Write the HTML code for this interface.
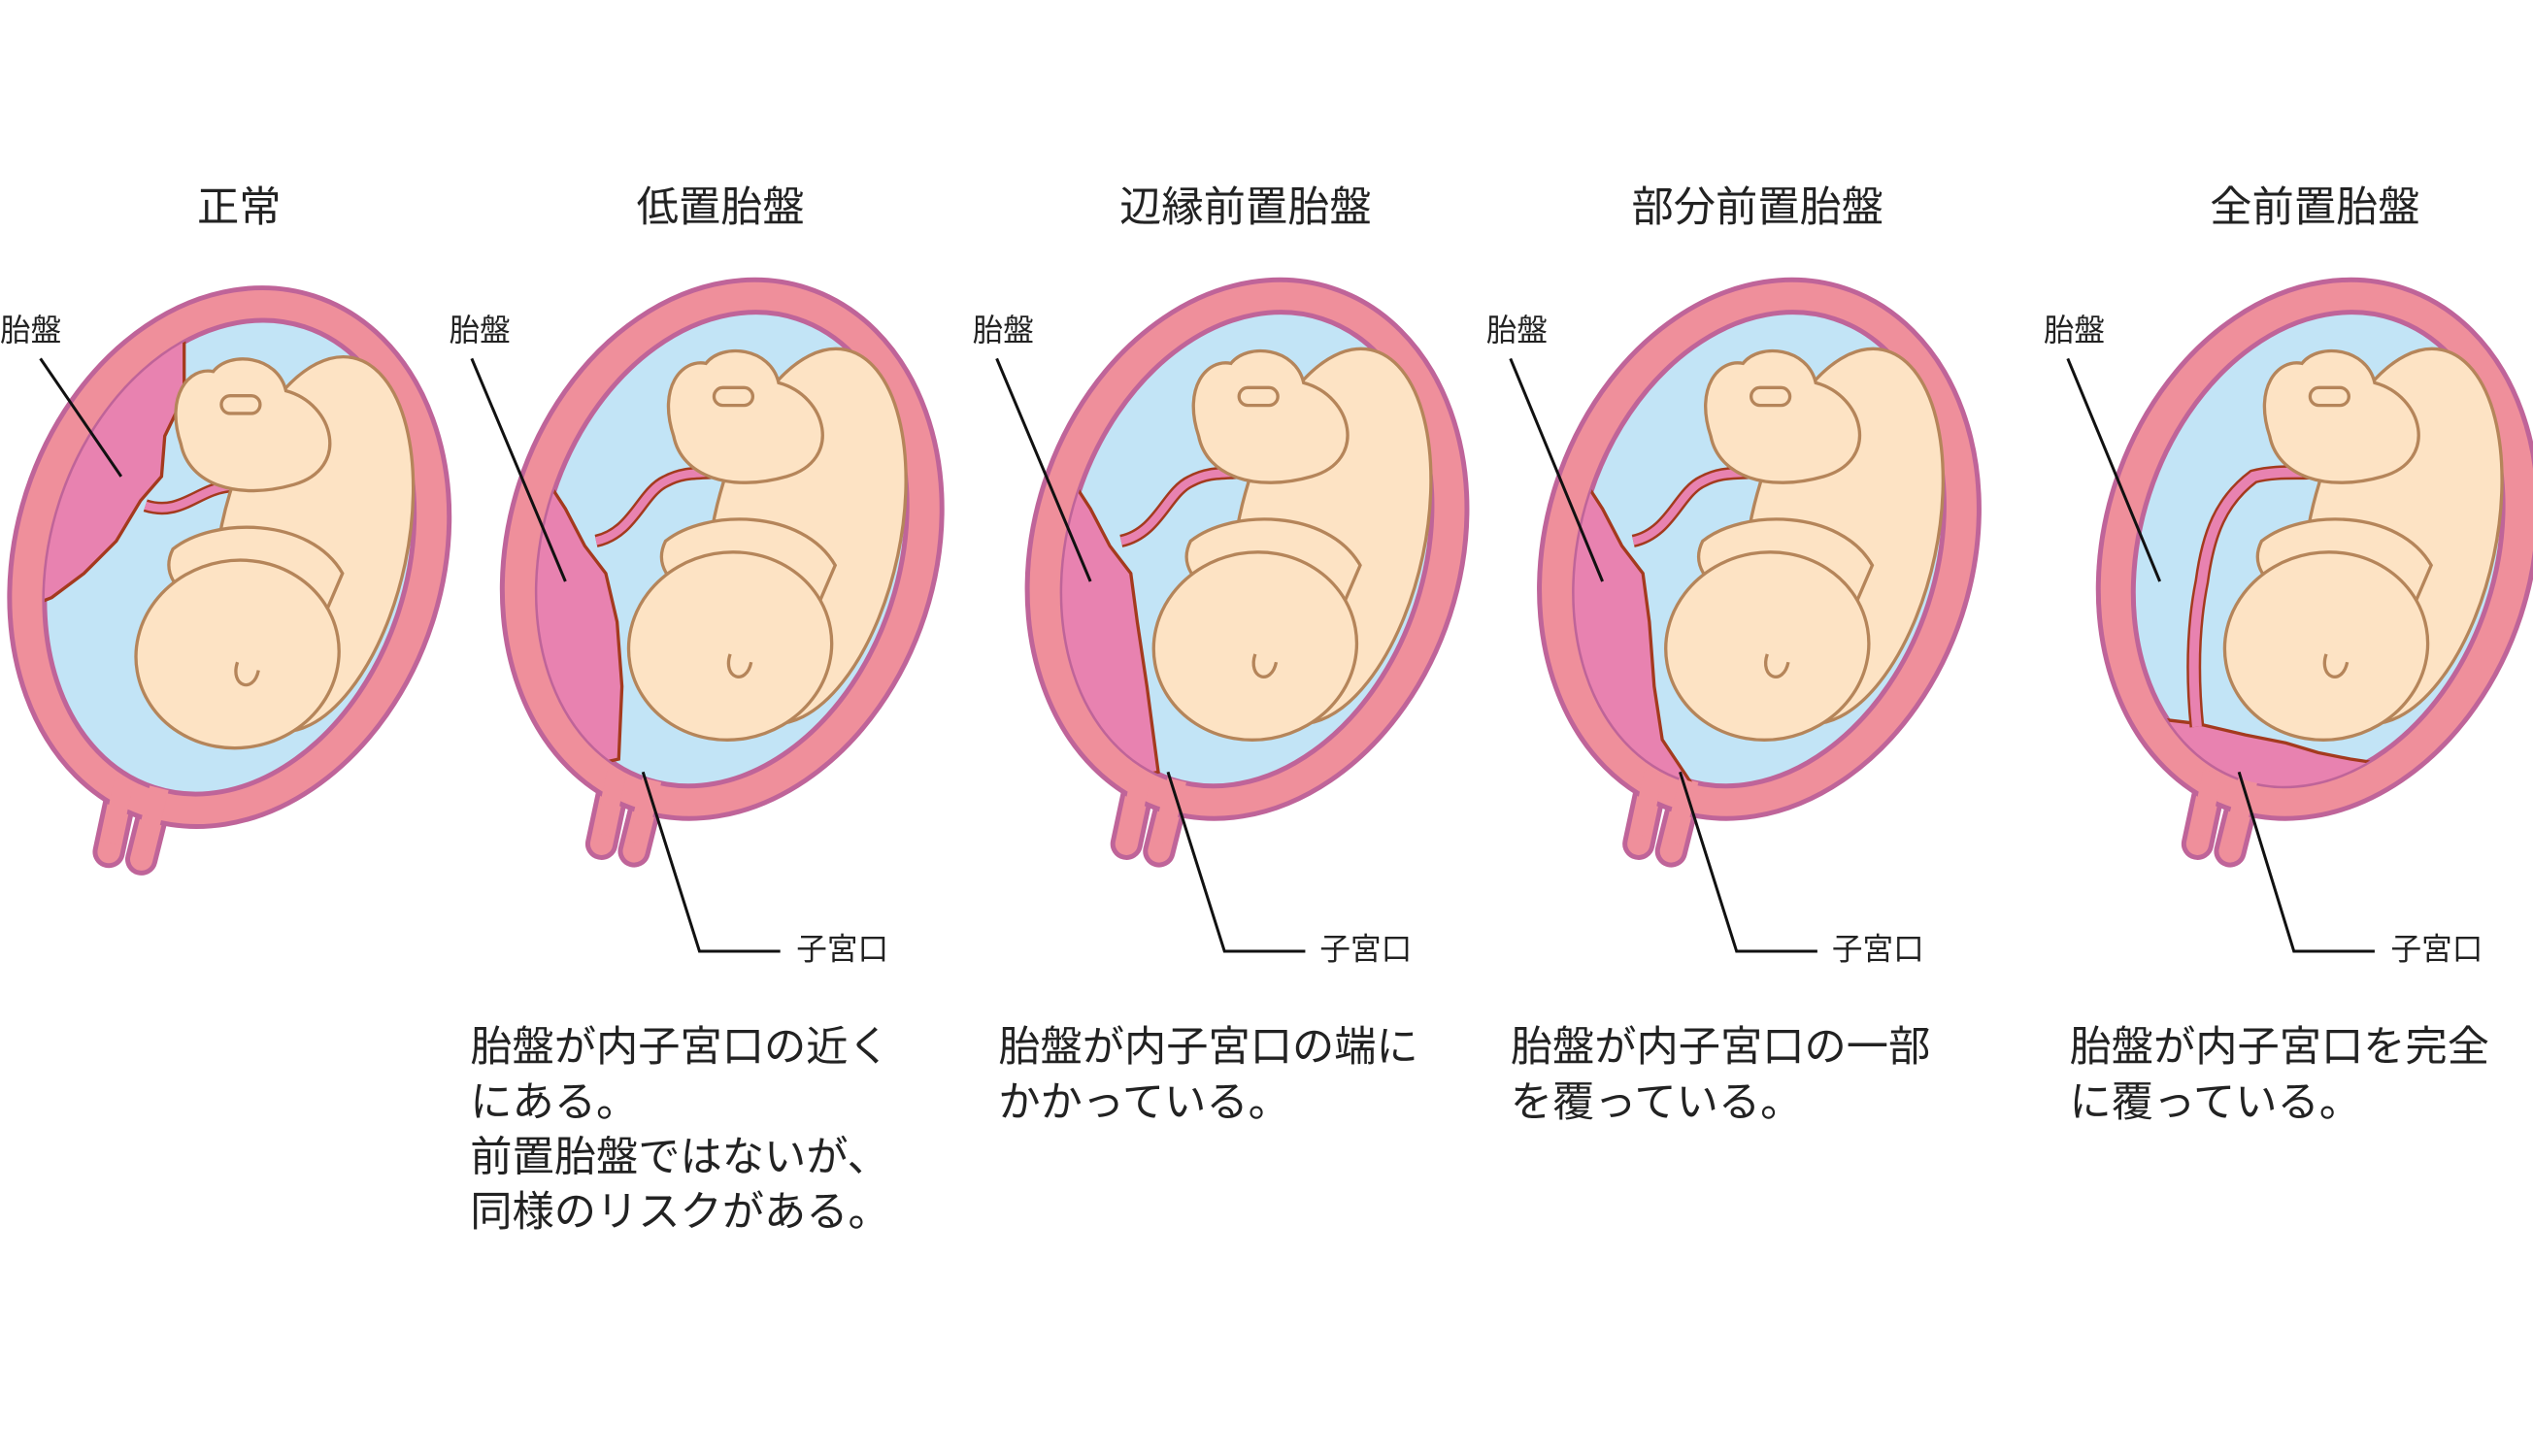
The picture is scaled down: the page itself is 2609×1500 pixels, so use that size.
<!DOCTYPE html>
<html><head><meta charset="utf-8"><style>
html,body{margin:0;padding:0;background:#fff;}
svg{display:block}
text{font-family:"Liberation Sans","Noto Sans CJK JP",sans-serif;fill:#222}
</style></head><body>
<svg width="2609" height="1500" viewBox="0 0 1568 901.5" xmlns="http://www.w3.org/2000/svg">
<defs>
<clipPath id="inner"><ellipse cx="0" cy="0" rx="110" ry="150" transform="rotate(18)"/></clipPath>
<g id="uterus">
  <g transform="translate(-64,130) rotate(12)">
    <rect x="-8" y="0" width="17" height="62" rx="8.5" fill="#ef8f9b" stroke="#bf6499" stroke-width="3"/>
  </g>
  <g transform="translate(-42,135) rotate(14)">
    <rect x="-8" y="0" width="17" height="62" rx="8.5" fill="#ef8f9b" stroke="#bf6499" stroke-width="3"/>
  </g>
  <g transform="rotate(18)">
    <ellipse cx="0" cy="0" rx="132" ry="170" fill="#ef8f9b" stroke="#bf6499" stroke-width="3"/>
    <ellipse cx="0" cy="0" rx="110" ry="150" fill="#c2e4f6" stroke="#bf6499" stroke-width="3"/>
  </g>
  <g transform="translate(-64,130) rotate(12)"><rect x="-5.5" y="8" width="12" height="40" fill="#ef8f9b"/></g>
  <g transform="translate(-42,135) rotate(14)"><rect x="-5.5" y="8" width="12" height="40" fill="#ef8f9b"/></g>
</g>
<g id="fetus" fill="#fde3c4" stroke="#b5855a" stroke-width="2">
  <ellipse cx="52" cy="-8" rx="58" ry="118" transform="rotate(12 52 -8)"/>
  <path d="M-30,-70 C-40,-100 -25,-118 -10,-115 C0,-128 30,-125 35,-103 C65,-95 75,-55 40,-45 C5,-35 -25,-45 -30,-70Z"/>
  <rect x="-5" y="-100" width="24" height="11" rx="5.5"/>
  <path d="M-35,-5 C-10,-25 50,-25 70,10 L55,45 C40,25 20,15 5,18 L-25,25 C-38,15 -40,5 -35,-5Z"/>
  <ellipse cx="5" cy="60" rx="63" ry="58" transform="rotate(-10 5 60)"/>
  <path d="M5,65 C0,80 15,85 18,70" fill="none"/>
</g>
</defs>

<g font-size="26" text-anchor="middle">
<text x="148" y="137">正常</text>
<text x="446" y="137">低置胎盤</text>
<text x="771" y="137">辺縁前置胎盤</text>
<text x="1088" y="137">部分前置胎盤</text>
<text x="1433" y="137">全前置胎盤</text>
</g>

<g transform="translate(142,345)">
<use href="#uterus"/>
<g clip-path="url(#inner)">
<path d="M-28,-160 L-28,-100 L-40,-75 L-42,-50 L-55,-35 L-70,-10 L-90,10 L-110,25 L-200,60 L-200,-200Z" fill="#e882b0" stroke="#a43a1e" stroke-width="2"/>
</g>
<path d="M-52,-32 C-30,-25 -20,-42 0,-44 C10,-44 15,-47 20,-47" fill="none" stroke="#a43a1e" stroke-width="8"/>
<path d="M-52,-32 C-30,-25 -20,-42 0,-44 C10,-44 15,-47 20,-47" fill="none" stroke="#e882b0" stroke-width="5"/>
<use href="#fetus"/>
</g>

<g transform="translate(447,340)">
<use href="#uterus"/>
<g clip-path="url(#inner)">
<path d="M-120,-50 L-108,-42 L-97,-25 L-85,-2 L-72,15 L-65,45 L-62,85 L-64,130 L-200,160 L-200,-60Z" fill="#e882b0" stroke="#a43a1e" stroke-width="2"/>
</g>
<path d="M-78,-5 C-55,-10 -50,-35 -35,-42 C-20,-50 -10,-45 15,-50" fill="none" stroke="#a43a1e" stroke-width="8"/>
<path d="M-78,-5 C-55,-10 -50,-35 -35,-42 C-20,-50 -10,-45 15,-50" fill="none" stroke="#e882b0" stroke-width="5"/>
<use href="#fetus"/>
</g>

<g transform="translate(772,340)">
<use href="#uterus"/>
<g clip-path="url(#inner)">
<path d="M-120,-50 L-108,-42 L-97,-25 L-85,-2 L-72,15 L-68,45 L-62,85 L-55,138 L-200,170 L-200,-60Z" fill="#e882b0" stroke="#a43a1e" stroke-width="2"/>
</g>
<path d="M-78,-5 C-55,-10 -50,-35 -35,-42 C-20,-50 -10,-45 15,-50" fill="none" stroke="#a43a1e" stroke-width="8"/>
<path d="M-78,-5 C-55,-10 -50,-35 -35,-42 C-20,-50 -10,-45 15,-50" fill="none" stroke="#e882b0" stroke-width="5"/>
<use href="#fetus"/>
</g>

<g transform="translate(1089,340)">
<use href="#uterus"/>
<g clip-path="url(#inner)">
<path d="M-120,-50 L-108,-42 L-97,-25 L-85,-2 L-72,15 L-68,45 L-65,85 L-60,118 L-42,145 L-200,170 L-200,-60Z" fill="#e882b0" stroke="#a43a1e" stroke-width="2"/>
</g>
<path d="M-78,-5 C-55,-10 -50,-35 -35,-42 C-20,-50 -10,-45 15,-50" fill="none" stroke="#a43a1e" stroke-width="8"/>
<path d="M-78,-5 C-55,-10 -50,-35 -35,-42 C-20,-50 -10,-45 15,-50" fill="none" stroke="#e882b0" stroke-width="5"/>
<use href="#fetus"/>
</g>

<g transform="translate(1435,340)">
<use href="#uterus"/>
<g clip-path="url(#inner)">
<path d="M-100,105 L-75,108 L-45,115 L-20,120 L0,126 L20,130 L40,133 L40,200 L-120,200Z" fill="#e882b0" stroke="#a43a1e" stroke-width="2"/>
</g>
<path d="M-75,110 C-78,80 -78,50 -72,20 C-68,-10 -60,-30 -40,-45 C-20,-50 -5,-45 12,-50" fill="none" stroke="#a43a1e" stroke-width="9"/>
<path d="M-75,110 C-78,80 -78,50 -72,20 C-68,-10 -60,-30 -40,-45 C-20,-50 -5,-45 12,-50" fill="none" stroke="#e882b0" stroke-width="6"/>
<use href="#fetus"/>
</g>

<g font-size="19">
<text x="0" y="211">胎盤</text>
<text x="278" y="211">胎盤</text>
<text x="602" y="211">胎盤</text>
<text x="920" y="211">胎盤</text>
<text x="1265" y="211">胎盤</text>
</g>
<g stroke="#111" stroke-width="1.8" fill="none">
<line x1="25" y1="222" x2="75" y2="295"/>
<line x1="292" y1="222" x2="350" y2="360"/>
<line x1="617" y1="222" x2="675" y2="360"/>
<line x1="935" y1="222" x2="992" y2="360"/>
<line x1="1280" y1="222" x2="1337" y2="360"/>
<polyline points="398,478 433,589 483,589"/>
<polyline points="723,478 758,589 808,589"/>
<polyline points="1040,478 1075,589 1125,589"/>
<polyline points="1386,478 1420,589 1470,589"/>
</g>
<g font-size="19">
<text x="493" y="594">子宮口</text>
<text x="817" y="594">子宮口</text>
<text x="1134" y="594">子宮口</text>
<text x="1480" y="594">子宮口</text>
</g>

<g font-size="26">
<text x="291" y="657">胎盤が内子宮口の近く</text>
<text x="291" y="691">にある。</text>
<text x="291" y="725">前置胎盤ではないが、</text>
<text x="291" y="759">同様のリスクがある。</text>
<text x="618" y="657">胎盤が内子宮口の端に</text>
<text x="618" y="691">かかっている。</text>
<text x="935" y="657">胎盤が内子宮口の一部</text>
<text x="935" y="691">を覆っている。</text>
<text x="1281" y="657">胎盤が内子宮口を完全</text>
<text x="1281" y="691">に覆っている。</text>
</g>
</svg>
</body></html>
